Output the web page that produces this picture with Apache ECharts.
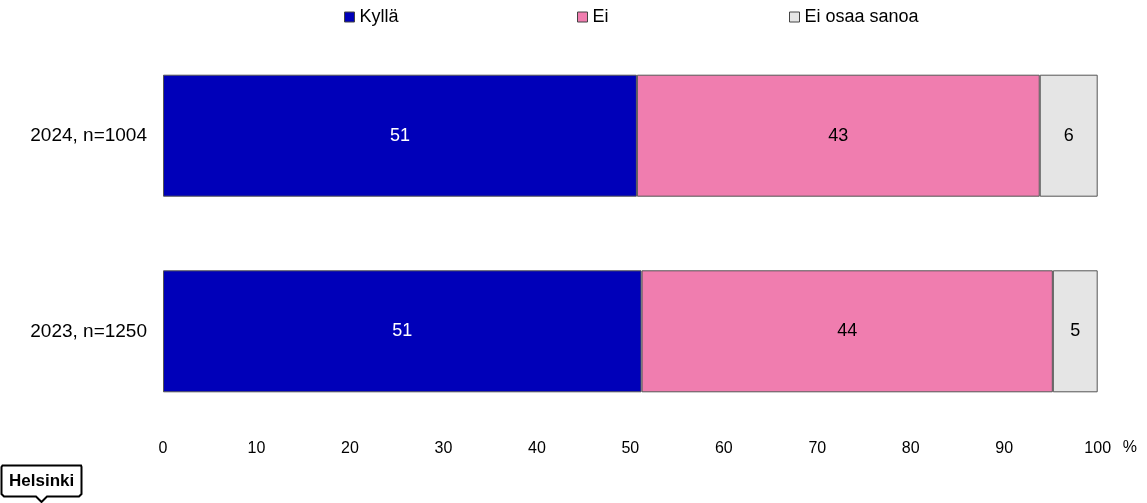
<!DOCTYPE html>
<html>
<head>
<meta charset="utf-8">
<script src="https://cdn.jsdelivr.net/npm/echarts@6/dist/echarts.min.js"></script>
<style>
html,body{margin:0;padding:0;background:#fff;}
#chart{width:1147px;height:503px;}
</style>
</head>
<body>
<div id="chart"></div>
<script>
const categories = ['2023, n=1250', '2024, n=1004'];
const seriesNames = ['Kyllä', 'Ei', 'Ei osaa sanoa'];
const kylla = [51.2, 50.7];
const ei = [44.0, 43.1];
const eos = [4.8, 6.2];
const xTicks = [0, 10, 20, 30, 40, 50, 60, 70, 80, 90, 100];

const colors = ['#0000B9', '#F07DAF', '#E5E5E5'];
const labelColors = ['#ffffff', '#000000', '#000000'];
const values = [kylla, ei, eos];
const FONT = '"Liberation Sans", Arial, sans-serif';

const chart = echarts.init(document.getElementById('chart'));

const legendLefts = [339, 572, 784];
const legends = seriesNames.map((n, i) => ({
  data: [n],
  left: legendLefts[i],
  top: 3,
  icon: 'rect',
  itemWidth: 10,
  itemHeight: 10,
  itemGap: 0,
  selectedMode: false,
  itemStyle: { borderColor: '#444', borderWidth: 1 },
  textStyle: { fontFamily: FONT, fontSize: 18, color: '#000' }
}));

chart.setOption({
  animation: false,
  backgroundColor: '#fff',
  legend: legends,
  grid: { left: 163, right: 49.3, top: 37.9, bottom: 73.9, containLabel: false },
  xAxis: {
    type: 'value',
    min: xTicks[0],
    max: xTicks[xTicks.length - 1],
    interval: 10,
    name: '%',
    nameLocation: 'end',
    nameGap: 25,
    nameTextStyle: { fontFamily: FONT, fontSize: 16, color: '#000', verticalAlign: 'top', padding: [10, 0, 0, 0] },
    axisLine: { show: false },
    axisTick: { show: false },
    splitLine: { show: false },
    axisLabel: { fontFamily: FONT, fontSize: 16, color: '#000', margin: 11 }
  },
  yAxis: {
    type: 'category',
    data: categories,
    axisLine: { show: false },
    axisTick: { show: false },
    axisLabel: { fontFamily: FONT, fontSize: 19, color: '#000', margin: 16 }
  },
  series: seriesNames.map((n, i) => ({
    name: n,
    type: 'bar',
    stack: 'total',
    barWidth: 122,
    data: values[i],
    itemStyle: { color: colors[i], borderColor: '#555', borderWidth: 1 },
    label: {
      show: true,
      position: 'inside',
      fontFamily: FONT,
      fontSize: 18,
      color: labelColors[i],
      formatter: p => Math.round(p.value)
    }
  })),
  graphic: [
    {
      type: 'polygon',
      shape: {
        points: [[1.5,467],[2.5,465.5],[81,465.5],[81.5,467],[81.5,494],[79,496.5],[47,496.5],[41.5,502],[36,496.5],[4,496.5],[1.5,494]]
      },
      style: { fill: '#fff', stroke: '#000', lineWidth: 2 }
    },
    {
      type: 'text',
      left: 9,
      top: 473,
      style: { text: 'Helsinki', fontFamily: FONT, fontWeight: 'bold', fontSize: 17, fill: '#000' }
    }
  ]
});
</script>
</body>
</html>
